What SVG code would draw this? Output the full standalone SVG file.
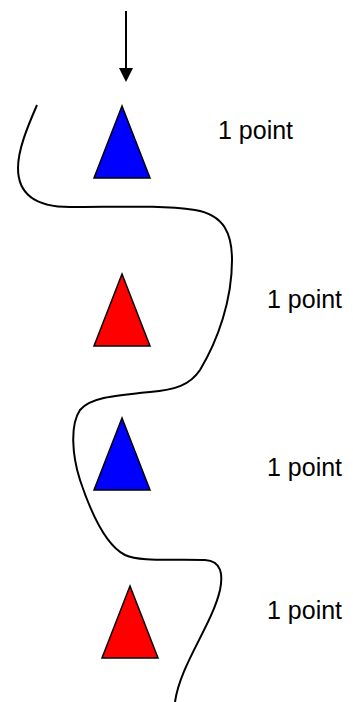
<svg xmlns="http://www.w3.org/2000/svg" width="353" height="702" viewBox="0 0 353 702">
<style>
.tri{stroke:#000;stroke-width:1.5;stroke-linejoin:miter}
.blue{fill:#0000ff}
.red{fill:#ff0000}
.lbl{font-family:"Liberation Sans",Arial,sans-serif;font-size:25px;fill:#000}
.wire{fill:none;stroke:#000;stroke-width:2}
</style>
<defs>
<marker id="ah" markerWidth="16" markerHeight="14" refX="0" refY="7" orient="auto" markerUnits="userSpaceOnUse">
<path d="M0,0 L14,7 L0,14 z" fill="#000"/>
</marker>
</defs>
<rect width="353" height="702" fill="#fff"/>
<g id="connectors">
<line x1="126" y1="11" x2="126" y2="68" stroke="#000" stroke-width="2" marker-end="url(#ah)"/>
<path class="wire" d="M37,105 C27,128 18,150 18,168 C18,196 38,207 70,207 C120,207 160,205 195,210 C225,215 232,235 232,260 C232,300 218,340 200,370 C190,385 175,390 150,392 C110,396 90,398 80,410 C70,425 72,455 80,480 C90,510 105,545 125,555 C140,562 170,559 205,560 C222,561 223,575 220,590 C212,625 180,665 175,702"/>
</g>
<g id="node1"><polygon class="tri blue" points="122,106 150,178 94,178"/><text class="lbl" x="218" y="139">1 point</text></g>
<g id="node2"><polygon class="tri red" points="122,274 150,346 94,346"/><text class="lbl" x="267" y="308">1 point</text></g>
<g id="node3"><polygon class="tri blue" points="122,418 150,490 94,490"/><text class="lbl" x="267" y="476">1 point</text></g>
<g id="node4"><polygon class="tri red" points="130,586 158,658 102,658"/><text class="lbl" x="267" y="619">1 point</text></g>
</svg>
